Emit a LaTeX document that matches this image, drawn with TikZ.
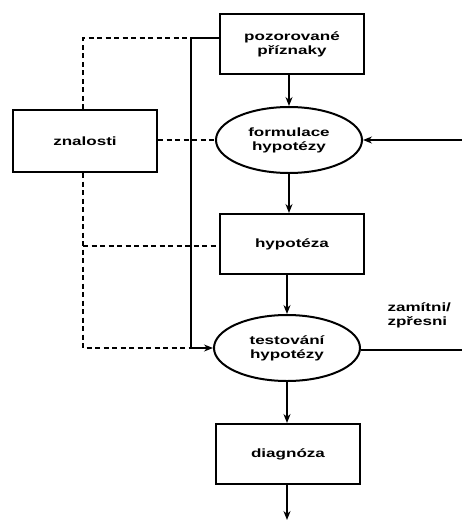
\documentclass[tikz,border=0pt]{standalone}
\usepackage{fontspec}
\setmainfont{Liberation Sans}[FakeStretch=1.42]
\usetikzlibrary{shapes.geometric,arrows.meta}
\begin{document}
\begin{tikzpicture}[x=1pt,y=-1pt,
  every node/.style={font=\fontsize{12}{14}\selectfont\bfseries, align=center},
  stepbox/.style={draw, line width=2pt, rectangle, minimum width=144pt, minimum height=60pt, inner sep=0pt},
  procell/.style={draw, line width=2pt, ellipse, minimum width=146pt, minimum height=66pt, inner sep=0pt},
  conn/.style={line width=2pt},
  arr/.style={conn, -{Stealth[length=9pt,width=7pt,inset=3pt]}},
  dashline/.style={line width=2pt, dash pattern=on 5pt off 3.5pt}]
\useasboundingbox (0,0) rectangle (462,520);
\node[stepbox] (poz) at (292,44) {pozorované\\příznaky};
\node[stepbox, minimum height=62pt] (zna) at (85,141) {znalosti};
\node[procell] (form) at (289,140) {formulace\\hypotézy};
\node[stepbox] (hyp) at (292,244) {hypotéza};
\node[procell] (test) at (287,348) {testování\\hypotézy};
\node[stepbox] (diag) at (288,454) {diagnóza};
\node[anchor=west, align=left] (lab) at (384,315) {zamítni/\\zpřesni};
\coordinate (j1) at (191,38);
\coordinate (j2) at (191,348);
\coordinate (k1) at (83,38);
\coordinate (k2) at (83,348);
\coordinate (k3) at (83,246);
\coordinate (r1) at (462,140);
\coordinate (r2) at (462,350);
\coordinate (out) at (287,520);
% main flow
\draw[arr] (poz.south -| form.north) -- (form.north);
\draw[arr] (form.south) -- (form.south |- hyp.north);
\draw[arr] (hyp.south -| test.north) -- (test.north);
\draw[arr] (test.south) -- (test.south |- diag.north);
\draw[arr] (diag.south -| out) -- (out);
% feedback
\draw[arr] (r1) -- (form.east);
\draw[conn] (test.east |- r2) -- (r2);
% observed symptoms to testing
\draw[conn] (poz.west |- j1) -- (j1) -- (j2);
\draw[arr] (j2) -- (test.west);
% knowledge (dashed)
\draw[dashline] (zna.north -| k1) -- (k1) -- (j1);
\draw[dashline] (zna.east |- form.west) -- (form.west);
\draw[dashline] (zna.south -| k2) -- (k2) -- (j2);
\draw[dashline] (k3) -- (hyp.west |- k3);
\end{tikzpicture}
\end{document}
